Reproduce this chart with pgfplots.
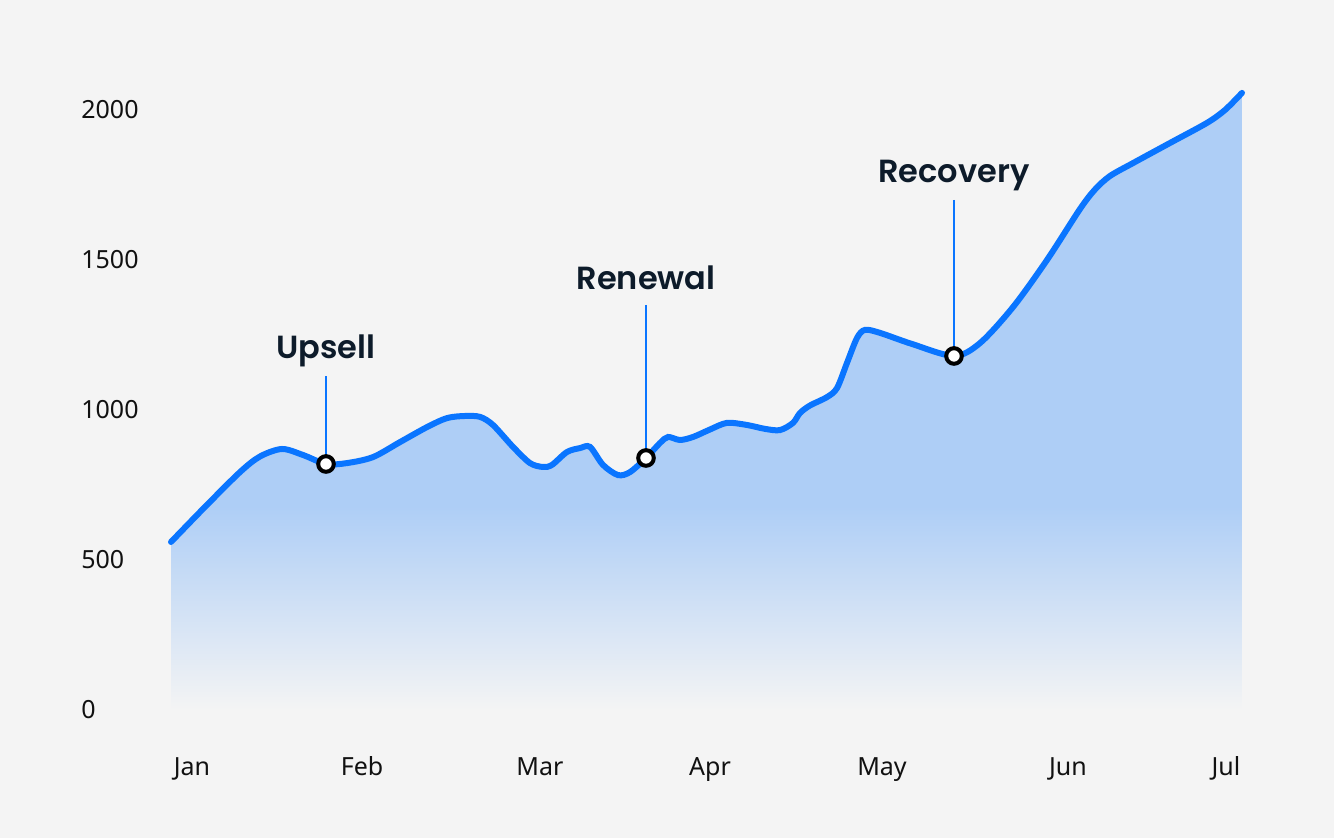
\documentclass[border=0pt]{standalone}
\usepackage{fontspec}
\usepackage{pgfplots}
\pgfplotsset{compat=1.18}
\setmainfont{Noto Sans}
\newfontfamily\annfont{Poppins SemiBold}

\definecolor{bgc}{HTML}{F4F4F4}
\definecolor{linec}{HTML}{0A75FF}
\definecolor{fillc}{HTML}{AECEF6}
\definecolor{annc}{HTML}{0D1B2A}
\definecolor{tickc}{HTML}{111111}

% shading: path spans 25bp..75bp, solid above ~41bp
\pgfdeclareverticalshading{areafade}{100bp}{color(0bp)=(bgc); color(25bp)=(bgc); color(41.5bp)=(fillc); color(100bp)=(fillc)}

% x in canvas pixels, y in value units
\pgfplotstableread{
x y
171 560
205 677
240 793
260 845
282 870
303 850
326 820
347 823
373 843
400 893
427 943
447 973
465 980
480 977
493 950
513 877
530 823
543 810
552 817
567 860
580 873
590 877
603 817
618 783
630 793
646 840
660 890
668 910
680 900
693 910
710 935
727 957
747 950
765 937
780 933
793 957
800 990
810 1015
827 1043
837 1073
847 1157
857 1240
865 1267
880 1257
912 1220
954 1180
980 1223
1013 1343
1047 1500
1080 1670
1095 1735
1110 1780
1133 1823
1170 1890
1207 1957
1225 2000
1242 2057
}\revenue

\begin{document}
\begin{tikzpicture}
\useasboundingbox[fill=bgc] (0,0) rectangle (667pt,419pt);
\begin{axis}[
    at={(0,0)}, anchor=south west,
    scale only axis, width=667pt, height=419pt,
    xmin=0, xmax=1334, ymin=-426.67, ymax=2366.67,
    axis line style={draw=none},
    major tick length=0pt,
    ytick={0,500,1000,1500,2000},
    yticklabels={0,500,1000,1500,2000},
    yticklabel style={anchor=west, inner sep=0pt, xshift=40.5pt},
    xtick={192,362,540,710,882,1068,1226},
    xticklabels={Jan,Feb,Mar,Apr,May,Jun,Jul},
    xticklabel style={anchor=base, inner sep=0pt, yshift=31pt},
    tick label style={font=\fontsize{12.5}{15}\selectfont, text=tickc},
    clip=false,
]
\addplot[draw=none, shading=areafade, smooth, tension=0.5] table[x=x, y=y] {\revenue} \closedcycle;
\addplot[linec, line width=3pt, smooth, tension=0.5, line cap=round] table[x=x, y=y] {\revenue};

% annotation stems
\addplot[linec, line width=1pt] coordinates {(326,1113) (326,820)};
\addplot[linec, line width=1pt] coordinates {(646,1350) (646,840)};
\addplot[linec, line width=1pt] coordinates {(954,1700) (954,1180)};

% annotated points
\addplot[only marks, mark=*, mark size=3.9pt,
    mark options={fill=white, draw=black, line width=2pt}]
    coordinates {(326,820) (646,840) (954,1180)};

\node[anchor=base, inner sep=0pt, text=annc, font=\annfont\fontsize{16}{19}\selectfont] at (axis cs:326,1173) {Upsell};
\node[anchor=base, inner sep=0pt, text=annc, font=\annfont\fontsize{16}{19}\selectfont] at (axis cs:646,1403) {Renewal};
\node[anchor=base, inner sep=0pt, text=annc, font=\annfont\fontsize{16}{19}\selectfont] at (axis cs:954,1757) {Recovery};
\end{axis}
\end{tikzpicture}
\end{document}
